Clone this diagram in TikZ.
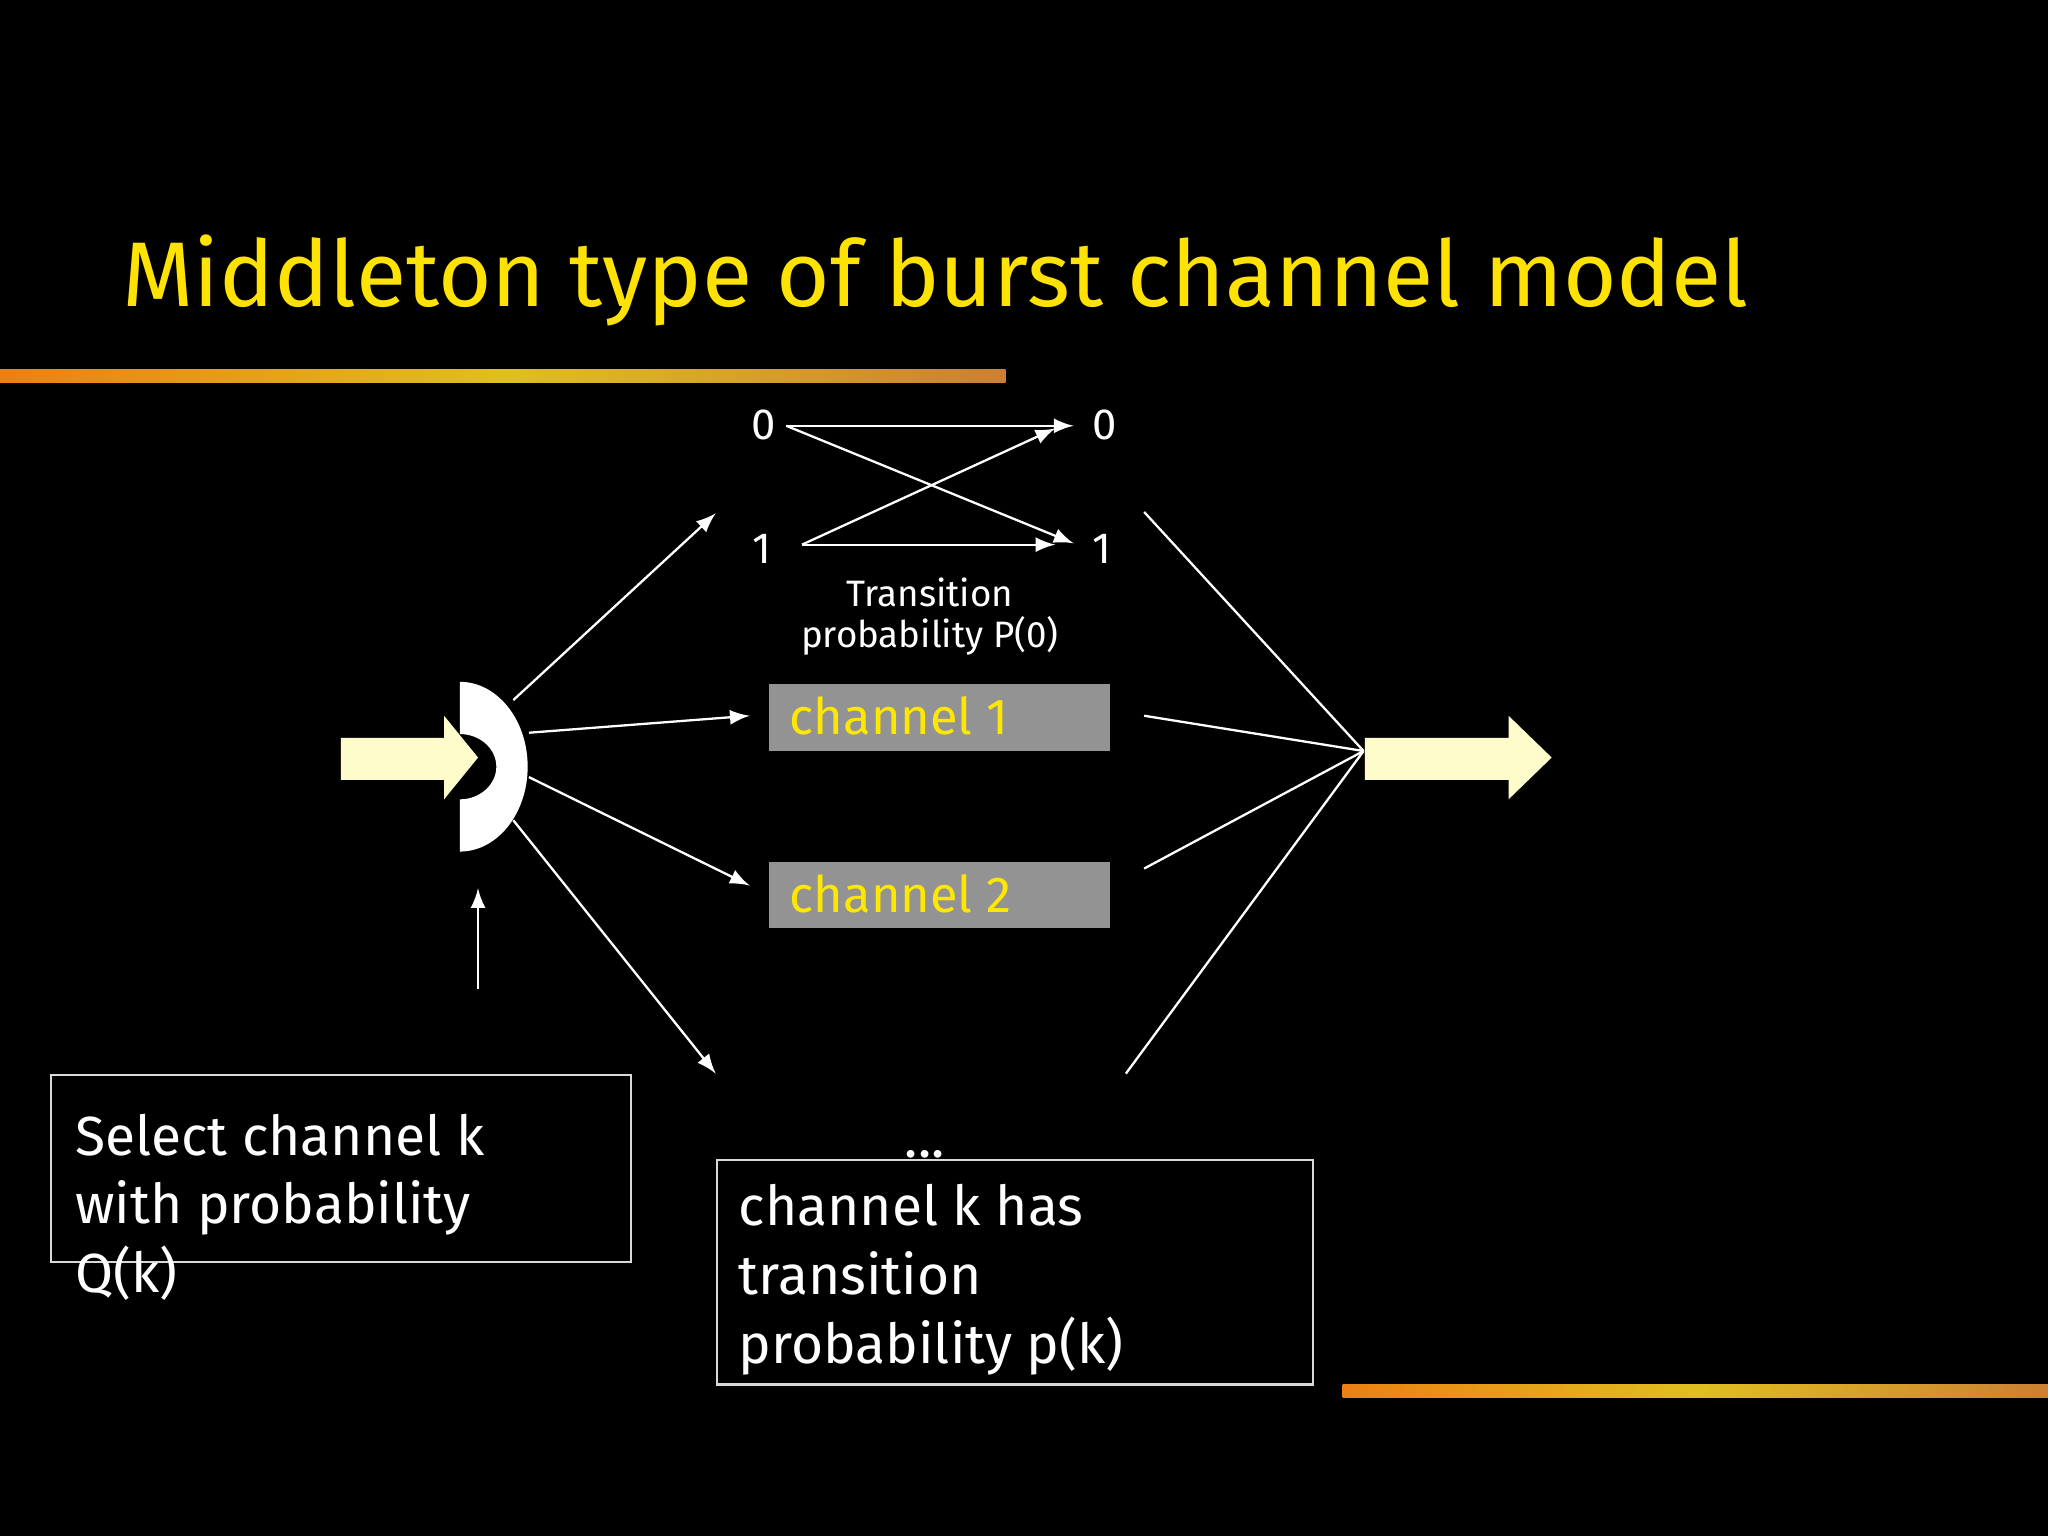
\documentclass[tikz,border=0pt]{standalone}
\usepackage{fontspec}
\setmainfont{Fira Sans}
\begin{document}
\begin{tikzpicture}[x=0.01cm,y=-0.01cm,
  ln/.style={draw=white,line width=0.5pt},
  arr/.style={ln,-latex},
  fat/.style={fill=yellow!20!white,draw=none},
  gbox/.style={fill=gray!85!white,draw=none,minimum width=2.61cm,minimum height=0.51cm,anchor=north west,inner sep=0pt},
  glbl/.style={anchor=west,text=yellow!90!orange,font=\fontsize{11}{13}\selectfont,inner sep=0pt},
  wtxt/.style={text=white,align=left,anchor=north west,inner sep=0pt,font=\fontsize{12}{15}\selectfont},
  lbl/.style={text=white,font=\fontsize{8}{9}\selectfont,inner sep=1pt}]
\fill[black] (0,0) rectangle (1568,1176);
\useasboundingbox (0,0) rectangle (1568,1176);
\node[anchor=base west,inner sep=0pt,text=yellow!85!orange,font=\fontsize{20}{24}\selectfont] (title) at (93,235) {Middleton type of burst channel model};
\shade[left color=orange!70!brown,right color=brown!80!orange,middle color=yellow!50!brown] (0,283) rectangle (770,293);
\shade[left color=orange!70!brown,right color=brown!80!orange,middle color=yellow!50!brown] (1028,1060) rectangle (1568,1070);
% input arrow
\fill[fat] (261,565) -- (340,565) -- (340,548) -- (366,580) -- (340,612) -- (340,597) -- (261,597) -- cycle;
% selector half ring
\fill[white] (352,522) arc[start angle=-90,end angle=90,x radius=52,y radius=65] -- (352,612) arc[start angle=90,end angle=-90,x radius=28,y radius=25] -- cycle;
\coordinate (sw) at (366,757);
\coordinate (swt) at (366,680);
\draw[arr] (sw) -- (swt);
% binary channel
\node[lbl,font=\fontsize{9.5}{11}\selectfont] (a0) at (585,325) {0};
\node[lbl,font=\fontsize{9.5}{11}\selectfont] (b0) at (846,325) {0};
\node[lbl,font=\fontsize{9.5}{11}\selectfont] (a1) at (583,420) {1};
\node[lbl,font=\fontsize{9.5}{11}\selectfont] (b1) at (844,420) {1};
\coordinate (a0r) at (602,326); \coordinate (a1r) at (614,417);
\coordinate (b0l) at (822,326); \coordinate (b1l) at (822,416);
\draw[arr] (a0r) -- (b0l);
\draw[arr] (a0r) -- (b1l);
\draw[arr] (a1r) -- (808,328);
\draw[arr] (a1r) -- (808,417);
\node[lbl,align=center] (tp) at (712,472) {Transition\\probability P(0)};
\node[gbox] (c1) at (588,523) {};
\node[glbl] (c1t) at (604,548) {channel 1};
\node[gbox] (c2) at (588,659) {};
\node[glbl] (c2t) at (604,684) {channel 2};
% fan-out
\coordinate (s1) at (393,536); \coordinate (s2) at (405,561);
\coordinate (s3) at (405,595); \coordinate (s4) at (393,628);
\draw[arr] (s1) -- (548,393);
\draw[arr] (s2) -- (574,548);
\draw[arr] (s3) -- (574,678);
\draw[arr] (s4) -- (548,822);
% fan-in
\coordinate (m) at (1044,575);
\draw[ln] (876,392) -- (m);
\draw[ln] (876,548) -- (m);
\draw[ln] (876,665) -- (m);
\draw[ln] (862,822) -- (m);
% output arrow
\fill[fat] (1045,565) -- (1155,565) -- (1155,548) -- (1188,580) -- (1155,612) -- (1155,597) -- (1045,597) -- cycle;
% text boxes
\draw[ln,draw=white!85!black] (39,823) rectangle (483,966);
\node[wtxt] (sel) at (57,852) {Select channel k\\with probability\\Q(k)};
\draw[ln,draw=white!85!black] (549,888) rectangle (1005,1060);
\node[lbl,font=\fontsize{12}{12}\selectfont] (dots) at (708,884) {...};
\node[wtxt] (ck) at (565,906) {channel k has\\transition\\probability p(k)};
\end{tikzpicture}
\end{document}
